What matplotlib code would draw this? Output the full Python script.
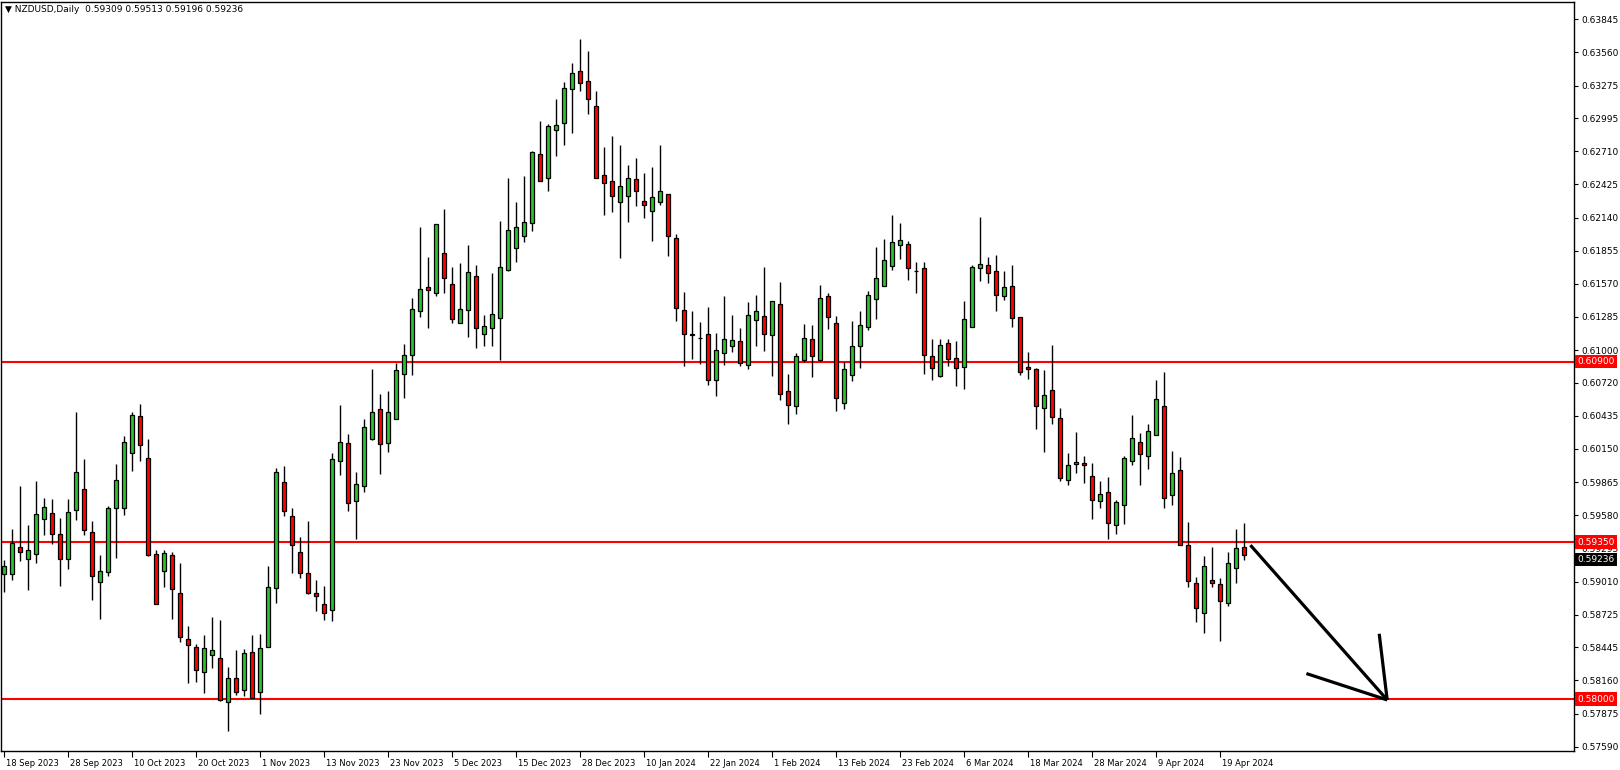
import matplotlib
matplotlib.use("Agg")
import matplotlib.pyplot as plt
import matplotlib.transforms as mtransforms

# daily candles, bar 0 = 18 Sep 2023
opens = [0.59078, 0.59078, 0.59311, 0.59208, 0.59251, 0.59544, 0.59596, 0.59415, 0.59208, 0.59622,
         0.59803, 0.59432, 0.59009, 0.59095, 0.59639, 0.59639, 0.60113, 0.60432, 0.60070, 0.59251,
         0.59104, 0.59242, 0.58914, 0.58518, 0.58449, 0.58233, 0.58380, 0.58354, 0.57974, 0.58181,
         0.58078, 0.58405, 0.58060, 0.58449, 0.58957, 0.59863, 0.59570, 0.59268, 0.59087, 0.58914,
         0.58819, 0.58768, 0.60044, 0.60199, 0.59699, 0.59829, 0.60234, 0.60493, 0.60199, 0.60406,
         0.60795, 0.60958, 0.61338, 0.61545, 0.61493, 0.61838, 0.61571, 0.61234, 0.61347, 0.61640,
         0.61139, 0.61191, 0.61277, 0.61691, 0.61881, 0.61984, 0.62096, 0.62683, 0.62476, 0.62890,
         0.62950, 0.63243, 0.63399, 0.63312, 0.63097, 0.62502, 0.62450, 0.62277, 0.62329, 0.62467,
         0.62286, 0.62200, 0.62277, 0.62346, 0.61967, 0.61346, 0.61139, 0.61105, 0.61139, 0.60742,
         0.60975, 0.61036, 0.61079, 0.60872, 0.61260, 0.61294, 0.61130, 0.61398, 0.60647, 0.60518,
         0.60915, 0.61096, 0.60915, 0.61467, 0.61234, 0.60544, 0.60785, 0.61036, 0.61199, 0.61441,
         0.61553, 0.61726, 0.61907, 0.61915, 0.61682, 0.61708, 0.60949, 0.60777, 0.61061, 0.60932,
         0.60854, 0.61199, 0.61708, 0.61734, 0.61682, 0.61467, 0.61553, 0.61286, 0.60854, 0.60838,
         0.60501, 0.60657, 0.60415, 0.59881, 0.60019, 0.60027, 0.59915, 0.59699, 0.59777, 0.59492,
         0.59665, 0.60044, 0.60208, 0.60088, 0.60269, 0.60519, 0.59751, 0.59967, 0.59320, 0.59001,
         0.58742, 0.59026, 0.58992, 0.58828, 0.59130, 0.59309]
highs = [0.59193, 0.59458, 0.59829, 0.59495, 0.59875, 0.59728, 0.59719, 0.59555, 0.59719, 0.60470,
         0.60064, 0.59530, 0.59239, 0.59656, 0.60021, 0.60263, 0.60470, 0.60539, 0.60237, 0.59277,
         0.59277, 0.59268, 0.59173, 0.58630, 0.58474, 0.58552, 0.58707, 0.58681, 0.58276, 0.58423,
         0.58431, 0.58552, 0.58561, 0.59147, 0.59984, 0.60001, 0.59639, 0.59397, 0.59527, 0.59026,
         0.58969, 0.60113, 0.60530, 0.60277, 0.59949, 0.60406, 0.60838, 0.60622, 0.60648, 0.60889,
         0.61053, 0.61450, 0.62062, 0.61804, 0.62080, 0.62209, 0.61717, 0.61752, 0.61907, 0.61735,
         0.61303, 0.61665, 0.62113, 0.62476, 0.62277, 0.62493, 0.62709, 0.62967, 0.62941, 0.63157,
         0.63304, 0.63468, 0.63675, 0.63571, 0.63226, 0.62743, 0.62838, 0.62760, 0.62588, 0.62648,
         0.62527, 0.62571, 0.62760, 0.62346, 0.62002, 0.61501, 0.61337, 0.61243, 0.61372, 0.61148,
         0.61467, 0.61303, 0.61194, 0.61415, 0.61475, 0.61717, 0.61424, 0.61588, 0.60794, 0.60975,
         0.61225, 0.61217, 0.61562, 0.61493, 0.61294, 0.60898, 0.61251, 0.61337, 0.61510, 0.61889,
         0.61958, 0.62165, 0.62096, 0.61941, 0.61760, 0.61760, 0.61096, 0.61096, 0.61096, 0.61079,
         0.61424, 0.61734, 0.62148, 0.61803, 0.61820, 0.61682, 0.61734, 0.61286, 0.60984, 0.60846,
         0.60829, 0.61045, 0.60501, 0.60113, 0.60295, 0.60088, 0.60027, 0.59872, 0.59906, 0.59708,
         0.60088, 0.60441, 0.60286, 0.60364, 0.60743, 0.60812, 0.60131, 0.60079, 0.59518, 0.59052,
         0.59233, 0.59311, 0.59044, 0.59268, 0.59458, 0.59513]
lows = [0.58923, 0.59021, 0.59187, 0.58937, 0.59170, 0.59412, 0.59337, 0.58972, 0.59121, 0.59535,
        0.59412, 0.58851, 0.58687, 0.59061, 0.59213, 0.59584, 0.59964, 0.60044, 0.59233, 0.58819,
        0.58963, 0.58687, 0.58492, 0.58135, 0.58144, 0.58049, 0.58267, 0.57983, 0.57724, 0.58035,
        0.58026, 0.58009, 0.57871, 0.58449, 0.58828, 0.59570, 0.59087, 0.59044, 0.58906, 0.58759,
        0.58679, 0.58670, 0.59923, 0.59613, 0.59377, 0.59777, 0.60225, 0.59938, 0.60122, 0.60406,
        0.60588, 0.60786, 0.61286, 0.61191, 0.61467, 0.61493, 0.61234, 0.61234, 0.61114, 0.61019,
        0.61035, 0.61035, 0.60915, 0.61682, 0.61760, 0.61932, 0.62027, 0.62450, 0.62372, 0.62665,
        0.62760, 0.62864, 0.63226, 0.63028, 0.62476, 0.62165, 0.62191, 0.61794, 0.62105, 0.62243,
        0.62139, 0.61941, 0.62251, 0.61812, 0.61251, 0.60863, 0.60923, 0.60880, 0.60699, 0.60604,
        0.60872, 0.60984, 0.60863, 0.60837, 0.61036, 0.60992, 0.60774, 0.60570, 0.60363, 0.60449,
        0.60898, 0.60768, 0.60906, 0.61182, 0.60475, 0.60492, 0.60734, 0.60846, 0.61174, 0.61268,
        0.61553, 0.61691, 0.61786, 0.61605, 0.61493, 0.60794, 0.60742, 0.60768, 0.60863, 0.60691,
        0.60665, 0.61199, 0.61596, 0.61579, 0.61337, 0.61432, 0.61199, 0.60785, 0.60751, 0.60320,
        0.60122, 0.60364, 0.59872, 0.59837, 0.59941, 0.59855, 0.59544, 0.59639, 0.59380, 0.59415,
        0.59501, 0.60010, 0.59837, 0.59975, 0.60269, 0.59639, 0.59665, 0.59320, 0.58966, 0.58664,
        0.58569, 0.58966, 0.58500, 0.58802, 0.59001, 0.59196]
closes = [0.59147, 0.59343, 0.59268, 0.59285, 0.59587, 0.59647, 0.59423, 0.59208, 0.59604, 0.59949,
          0.59449, 0.59061, 0.59104, 0.59639, 0.59880, 0.60208, 0.60441, 0.60182, 0.59236, 0.58819,
          0.59259, 0.58949, 0.58535, 0.58466, 0.58250, 0.58440, 0.58423, 0.57991, 0.58181, 0.58060,
          0.58397, 0.58009, 0.58440, 0.58966, 0.59949, 0.59613, 0.59328, 0.59087, 0.58914, 0.58888,
          0.58742, 0.60061, 0.60208, 0.59682, 0.59846, 0.60337, 0.60467, 0.60191, 0.60467, 0.60829,
          0.60958, 0.61355, 0.61528, 0.61519, 0.62080, 0.61623, 0.61269, 0.61355, 0.61674, 0.61191,
          0.61208, 0.61311, 0.61717, 0.62036, 0.62062, 0.62105, 0.62700, 0.62450, 0.62924, 0.62933,
          0.63252, 0.63381, 0.63295, 0.63157, 0.62476, 0.62441, 0.62329, 0.62415, 0.62476, 0.62364,
          0.62251, 0.62320, 0.62372, 0.61984, 0.61363, 0.61139, 0.61133, 0.61105, 0.60742, 0.61001,
          0.61096, 0.61087, 0.60889, 0.61303, 0.61337, 0.61139, 0.61424, 0.60622, 0.60527, 0.60949,
          0.61105, 0.60949, 0.61450, 0.61286, 0.60587, 0.60837, 0.61036, 0.61217, 0.61475, 0.61622,
          0.61777, 0.61933, 0.61950, 0.61708, 0.61682, 0.60958, 0.60846, 0.61044, 0.60923, 0.60846,
          0.61268, 0.61717, 0.61743, 0.61665, 0.61475, 0.61544, 0.61277, 0.60811, 0.60837, 0.60519,
          0.60614, 0.60424, 0.59898, 0.60010, 0.60036, 0.60010, 0.59708, 0.59760, 0.59510, 0.59691,
          0.60070, 0.60243, 0.60105, 0.60303, 0.60579, 0.59725, 0.59941, 0.59328, 0.59018, 0.58785,
          0.59147, 0.59001, 0.58845, 0.59173, 0.59302, 0.59236]

date_labels = ['18 Sep 2023', '28 Sep 2023', '10 Oct 2023', '20 Oct 2023', '1 Nov 2023',
               '13 Nov 2023', '23 Nov 2023', '5 Dec 2023', '15 Dec 2023', '28 Dec 2023',
               '10 Jan 2024', '22 Jan 2024', '1 Feb 2024', '13 Feb 2024', '23 Feb 2024',
               '6 Mar 2024', '18 Mar 2024', '28 Mar 2024', '9 Apr 2024', '19 Apr 2024']
price_ticks = [0.63845, 0.63560, 0.63275, 0.62995, 0.62710, 0.62425, 0.62140, 0.61855, 0.61570,
               0.61285, 0.61000, 0.60720, 0.60435, 0.60150, 0.59865, 0.59580, 0.59295, 0.59010,
               0.58725, 0.58445, 0.58160, 0.57875, 0.57590]
levels = [0.60900, 0.59350, 0.58000]
last_price = 0.59236
header = '\u25bc NZDUSD,Daily  0.59309 0.59513 0.59196 0.59236'

# hand drawn arrow: shaft and two barbs (bar index, price)
arrow_shaft = [(155.8, 0.59323), (172.9, 0.57992)]
arrow_barb1 = [(162.8, 0.58219), (172.9, 0.57992)]
arrow_barb2 = [(171.9, 0.58561), (172.9, 0.57992)]

plt.rcParams['font.family'] = 'DejaVu Sans'

fig = plt.figure(figsize=(16.2, 7.7), dpi=100)
ax = fig.add_axes([1 / 1620, 1 - 751 / 770, 1573 / 1620, 749 / 770])
ax.set_xlim(-0.375, 196.25)
ax.set_ylim(0.57553, 0.63993)

x = list(range(len(opens)))
body_bottom = [min(o, c) for o, c in zip(opens, closes)]
body_height = [abs(c - o) for o, c in zip(opens, closes)]
colors = ['#2ec12e' if c >= o else '#ff0000' for o, c in zip(opens, closes)]

for lvl in levels:
    ax.axhline(lvl, color='#ff0000', linewidth=1.5, zorder=1)

ax.vlines(x, lows, highs, color='black', linewidth=1.0, zorder=2)
ax.bar(x, body_height, bottom=body_bottom, width=0.62, color=colors,
       edgecolor='black', linewidth=0.9, zorder=3)

for seg in (arrow_shaft, arrow_barb1, arrow_barb2):
    ax.plot([p[0] for p in seg], [p[1] for p in seg], color='black',
            linewidth=2.3, solid_capstyle='butt', zorder=4)

# price axis on the right
ax.yaxis.tick_right()
ax.set_yticks(price_ticks)
ax.set_yticklabels(['%.5f' % v for v in price_ticks])
ax.tick_params(axis='y', direction='out', length=3, width=0.8, pad=2, labelsize=6.5)

# dates every 8 bars
ax.set_xticks(range(0, 8 * len(date_labels), 8))
ax.set_xticklabels(date_labels, ha='left', fontsize=6)
ax.tick_params(axis='x', direction='out', length=4, width=0.8, pad=2)
offset = mtransforms.ScaledTranslation(2 / 100, 0, fig.dpi_scale_trans)
for lbl in ax.get_xticklabels():
    lbl.set_transform(lbl.get_transform() + offset)

for sp in ax.spines.values():
    sp.set_linewidth(1.0)

ytrans = ax.get_yaxis_transform()
for lvl in levels:
    ax.annotate('%.5f' % lvl, xy=(1, lvl), xycoords=ytrans, xytext=(2.5, 0),
                textcoords='offset points', va='center', ha='left', fontsize=6.5,
                color='white', annotation_clip=False, zorder=10,
                bbox=dict(boxstyle='square,pad=0.25', fc='#ff0000', ec='none'))
ax.annotate('%.5f' % last_price, xy=(1, last_price), xycoords=ytrans, xytext=(2.5, -3),
            textcoords='offset points', va='center', ha='left', fontsize=6.5,
            color='white', annotation_clip=False, zorder=10,
            bbox=dict(boxstyle='square,pad=0.25', fc='black', ec='none'))

fig.text(5 / 1620, 1 - 10 / 770, header, fontsize=6.5, va='center', ha='left')

fig.savefig('out.png', dpi=100)
